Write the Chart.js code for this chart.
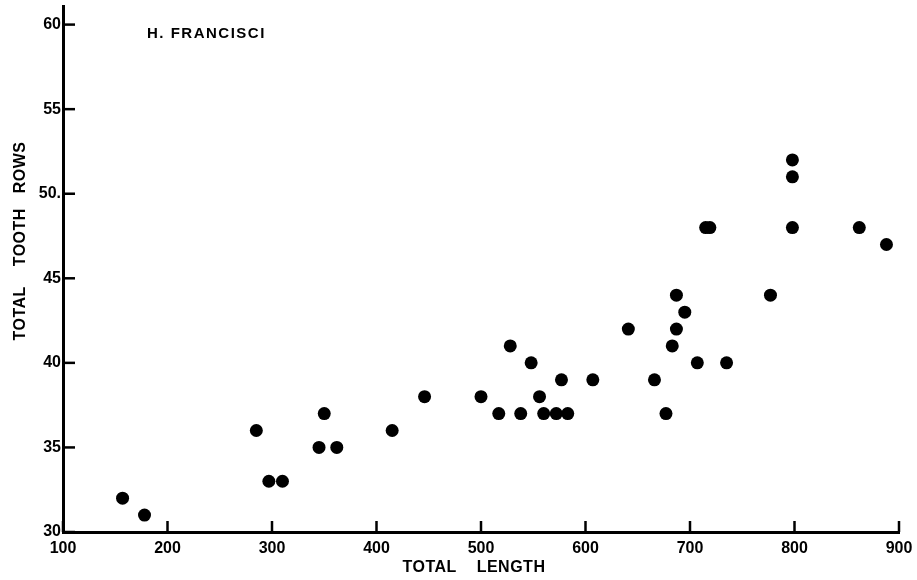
<!DOCTYPE html>
<html lang="en">
<head>
    <meta charset="UTF-8">
    <title>H. francisci - tooth rows vs total length</title>
    <script src="https://cdn.jsdelivr.net/npm/chart.js"></script>
    <style>
        body {
            margin: 0;
            background: #fff;
        }
        #wrap {
            width: 917px;
            height: 580px;
        }
    </style>
</head>
<body>
    <div id="wrap">
        <canvas id="scatter"></canvas>
    </div>
    <script>
        // values
        const totalLength = [157, 178, 285, 297, 310, 345, 350, 362, 415, 446,
                             500, 517, 528, 538, 548, 556, 560, 572, 583, 577,
                             607, 641, 666, 677, 683, 687, 695, 687, 707, 735,
                             715, 719, 777, 798, 798, 798, 862, 888];
        const toothRows   = [32, 31, 36, 33, 33, 35, 37, 35, 36, 38,
                             38, 37, 41, 37, 40, 38, 37, 37, 37, 39,
                             39, 42, 39, 37, 41, 42, 43, 44, 40, 40,
                             48, 48, 44, 52, 51, 48, 48, 47];
        const xTickValues = [100, 200, 300, 400, 500, 600, 700, 800, 900];
        const yTickValues = [30, 35, 40, 45, 50, 55, 60];
        const yTickLabels = ['30', '35', '40', '45', '50.', '55', '60'];

        const tickFont = { family: 'Liberation Sans', size: 16, weight: 'bold' };

        // inward tick marks + titles, drawn from the scales
        const extras = {
            id: 'extras',
            afterDraw(chart) {
                const { ctx, chartArea, scales: { x, y } } = chart;
                ctx.save();
                ctx.strokeStyle = '#000';
                ctx.lineWidth = 2.5;
                yTickValues.forEach(v => {
                    const py = y.getPixelForValue(v);
                    ctx.beginPath();
                    ctx.moveTo(chartArea.left, py);
                    ctx.lineTo(chartArea.left + 12, py);
                    ctx.stroke();
                });
                xTickValues.forEach(v => {
                    const px = x.getPixelForValue(v);
                    ctx.beginPath();
                    ctx.moveTo(px, chartArea.bottom);
                    ctx.lineTo(px, chartArea.bottom - 11);
                    ctx.stroke();
                });

                ctx.fillStyle = '#000';
                ctx.textBaseline = 'alphabetic';

                // species label
                ctx.font = 'bold 15px "Liberation Sans"';
                ctx.letterSpacing = '1.5px';
                ctx.textAlign = 'left';
                ctx.fillText('H. FRANCISCI', 147, 38);

                // x title
                ctx.font = 'bold 16px "Liberation Sans"';
                ctx.letterSpacing = '0.5px';
                ctx.textAlign = 'center';
                ctx.fillText('TOTAL    LENGTH', 474, 572);

                // y title
                ctx.translate(25, 241);
                ctx.rotate(-Math.PI / 2);
                ctx.fillText('TOTAL    TOOTH   ROWS', 0, 0);
                ctx.restore();
            }
        };

        const ctx = document.getElementById('scatter').getContext('2d');
        const chart = new Chart(ctx, {
            type: 'scatter',
            data: {
                datasets: [{
                    data: totalLength.map((v, i) => ({ x: v, y: toothRows[i] })),
                    backgroundColor: '#000',
                    borderWidth: 0,
                    pointRadius: 6.5,
                    pointHoverRadius: 6.5
                }]
            },
            options: {
                responsive: true,
                maintainAspectRatio: false,
                animation: false,
                layout: {
                    padding: { top: 6, right: 18, bottom: 0, left: 0 }
                },
                plugins: {
                    legend: { display: false },
                    tooltip: { enabled: false }
                },
                scales: {
                    x: {
                        type: 'linear',
                        min: 100,
                        max: 900,
                        afterBuildTicks: s => { s.ticks = xTickValues.map(v => ({ value: v })); },
                        afterFit: s => { s.height = 48; s.paddingLeft = 0; s.paddingRight = 0; },
                        grid: { display: false, drawTicks: false },
                        border: { display: true, color: '#000', width: 3 },
                        ticks: {
                            color: '#000',
                            font: tickFont,
                            padding: 7,
                            maxRotation: 0,
                            autoSkip: false
                        }
                    },
                    y: {
                        type: 'linear',
                        min: 30,
                        max: 61.07,
                        afterBuildTicks: s => { s.ticks = yTickValues.map(v => ({ value: v })); },
                        afterFit: s => { s.width = 63; s.paddingTop = 0; s.paddingBottom = 0; },
                        grid: { display: false, drawTicks: false },
                        border: { display: true, color: '#000', width: 3 },
                        ticks: {
                            color: '#000',
                            font: tickFont,
                            padding: 2,
                            autoSkip: false,
                            callback: v => yTickLabels[yTickValues.indexOf(v)]
                        }
                    }
                }
            },
            plugins: [extras]
        });
    </script>
</body>
</html>
